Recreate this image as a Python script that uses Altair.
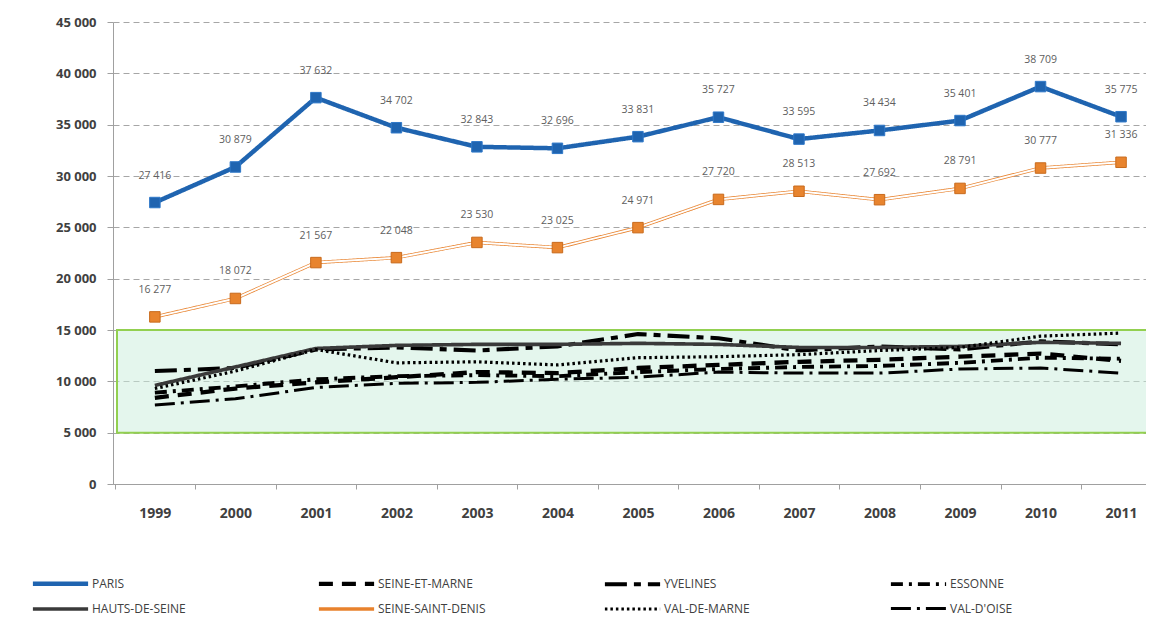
import altair as alt
import pandas as pd

years = list(range(1999, 2012))
departements = ["PARIS", "SEINE-ET-MARNE", "YVELINES", "ESSONNE",
                "HAUTS-DE-SEINE", "SEINE-SAINT-DENIS", "VAL-DE-MARNE", "VAL-D'OISE"]

paris = [27416, 30879, 37632, 34702, 32843, 32696, 33831, 35727, 33595, 34434, 35401, 38709, 35775]
seine_saint_denis = [16277, 18072, 21567, 22048, 23530, 23025, 24971, 27720, 28513, 27692, 28791, 30777, 31336]
hauts_de_seine = [9600, 11400, 13200, 13500, 13600, 13600, 13700, 13600, 13300, 13300, 13400, 13800, 13700]
yvelines = [11000, 11300, 13100, 13300, 13000, 13400, 14600, 14200, 13000, 13400, 13100, 13900, 13600]
val_de_marne = [9300, 11000, 13100, 11800, 11900, 11600, 12300, 12400, 12600, 13000, 13300, 14400, 14700]
seine_et_marne = [8400, 9300, 9900, 10400, 10900, 10800, 11300, 11600, 11900, 12100, 12400, 12700, 12000]
essonne = [8900, 9500, 10200, 10500, 10600, 10500, 10900, 11200, 11400, 11500, 11800, 12300, 12200]
val_doise = [7700, 8300, 9400, 9800, 9900, 10200, 10400, 10900, 10800, 10800, 11200, 11300, 10800]

zone_bas = [5000]
zone_haut = [15000]

series = {
    "PARIS": paris, "SEINE-ET-MARNE": seine_et_marne, "YVELINES": yvelines,
    "ESSONNE": essonne, "HAUTS-DE-SEINE": hauts_de_seine,
    "SEINE-SAINT-DENIS": seine_saint_denis, "VAL-DE-MARNE": val_de_marne,
    "VAL-D'OISE": val_doise,
}
rows = []
for d in departements:
    for y, v in zip(years, series[d]):
        rows.append({"annee": y, "dept": d, "valeur": v})
df = pd.DataFrame(rows)
box = pd.DataFrame({"bas": zone_bas, "haut": zone_haut})

colors = ["#1F64B0", "#000000", "#000000", "#000000", "#3A3A3A", "#E8822D", "#000000", "#000000"]
dashes = [[1, 0], [14, 9], [22, 7, 7, 7], [12, 6, 3, 6], [1, 0], [1, 0], [2.5, 3], [20, 6, 3, 6]]
widths = [4.5, 3, 3, 3, 3, 6, 3, 5]

FONT = "Open Sans"
xscale = alt.Scale(domain=[1998.48, 2011.31], nice=False, zero=False)
yscale = alt.Scale(domain=[0, 45000], nice=False)

xenc = alt.X("annee:Q", scale=xscale, title=None,
             axis=alt.Axis(values=years, format="d", grid=False, tickOffset=-40, labelOffset=40,
                           tickSize=5, labelPadding=17, labelFontSize=14, labelFontWeight="bold",
                           labelColor="#404040", domainColor="#A0A0A0", tickColor="#A0A0A0"))
yenc = alt.Y("valeur:Q", scale=yscale, title=None,
             axis=alt.Axis(values=list(range(0, 45001, 5000)), format=",d", grid=True,
                           gridDash=[6, 4], gridColor="#A6A6A6", tickSize=6, labelPadding=11,
                           labelFontSize=13, labelFontWeight="bold", labelColor="#404040",
                           domainColor="#A0A0A0", tickColor="#A0A0A0"))

base = alt.Chart(df)

zone = alt.Chart(box).mark_rect(fill="#C9EEDC", fillOpacity=0.5, stroke="#92D050",
                                strokeWidth=2).encode(
    y=alt.Y("bas:Q", scale=yscale),
    y2="haut:Q",
    x=alt.value(4),
    x2=alt.value({"expr": "width + 20"}),
)

lines = base.mark_line().encode(
    x=xenc, y=yenc,
    color=alt.Color("dept:N", scale=alt.Scale(domain=departements, range=colors),
                    sort=departements, title=None),
    strokeDash=alt.StrokeDash("dept:N", scale=alt.Scale(domain=departements, range=dashes),
                              sort=departements, title=None),
    strokeWidth=alt.StrokeWidth("dept:N", scale=alt.Scale(domain=departements, range=widths),
                                sort=departements, title=None),
)

ssd = base.transform_filter(alt.datum.dept == "SEINE-SAINT-DENIS")
par = base.transform_filter(alt.datum.dept == "PARIS")

ssd_inner = ssd.mark_line(color="white", strokeWidth=2).encode(x="annee:Q", y="valeur:Q")
par_pts = par.mark_point(shape="square", size=110, filled=True, fill="#1F64B0",
                         stroke="#2F78C8", strokeWidth=1, opacity=1).encode(x="annee:Q", y="valeur:Q")
ssd_pts = ssd.mark_point(shape="square", size=110, filled=True, fill="#E8842E",
                         stroke="#C86A1C", strokeWidth=1, opacity=1).encode(x="annee:Q", y="valeur:Q")

labels = base.transform_filter(
    (alt.datum.dept == "PARIS") | (alt.datum.dept == "SEINE-SAINT-DENIS")
).mark_text(dy=-27, fontSize=10.5, color="#606060", font=FONT).encode(
    x="annee:Q", y="valeur:Q", text=alt.Text("valeur:Q", format=",d"))

chart = alt.layer(zone, lines, ssd_inner, par_pts, ssd_pts, labels).properties(
    width=1033, height=462,
    autosize=alt.AutoSizeParams(type="none"),
    padding={"left": 105, "top": 14, "right": 0, "bottom": 131},
).configure(
    locale={"number": {"decimal": ",", "thousands": " ", "grouping": [3], "currency": ["", " €"]}},
    font=FONT,
).configure_view(stroke=None).configure_legend(
    orient="none", legendX=-61, legendY=553, columns=4, direction="horizontal",
    symbolType="M-4.6,0H4.6", symbolSize=144, labelOffset=23, labelFontSize=12,
    labelColor="#404040", labelFont=FONT, gridAlign="all", columnPadding=110,
    rowPadding=8, padding=0, labelLimit=300,
)

chart.save("out.html", embed_options={"renderer": "svg", "actions": False})
